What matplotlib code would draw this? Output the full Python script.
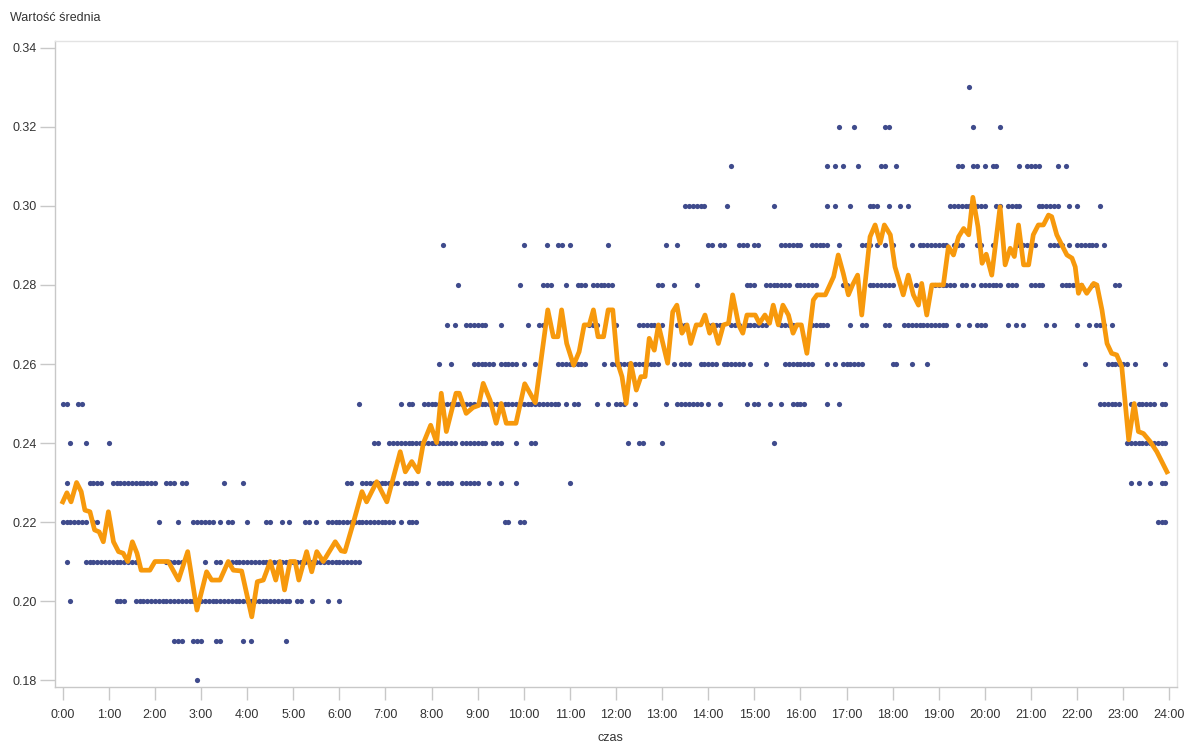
import numpy as np
import matplotlib
matplotlib.use("Agg")
import matplotlib.pyplot as plt

plt.rcParams['font.family'] = ['Liberation Sans', 'DejaVu Sans']

# scatter: for each level, the 5-minute slots (0 = 0:00, 287 = 23:55) holding a dot
# tuples are inclusive runs of slots
levels = {
    0.18: [35],
    0.19: [29, 30, 31, 34, 35, 36, 40, 41, 47, 49, 58],
    0.20: [2, (14, 16), (19, 59), 61, 62, 65, 69, 72],
    0.21: [1, (6, 19), (27, 31), 37, 40, 41, (44, 77)],
    0.22: [(0, 6), 8, 9, 25, 30, (34, 39), 41, 43, 44, 48, 53, 54, 57, 59, 63, 64, 66,
           (69, 86), 88, (90, 92), 115, 116, 119, 120, (285, 287)],
    0.23: [1, (7, 10), (13, 24), (27, 29), 31, 32, 42, 47, 74, 75, (78, 87), (89, 92), 95,
           (98, 101), (104, 108), 111, 114, 118, 132, 278, 280, 283, 286, 287],
    0.24: [2, 6, 12, 81, 82, (85, 102), (104, 110), (112, 114), 118, 122, 123, 147, 150, 151,
           156, 185, (277, 287)],
    0.25: [0, 1, 4, 5, 77, 88, 90, 91, (94, 129), 131, 133, 134, 139, 142, (144, 146), 149,
           157, (160, 166), 168, 171, 178, 180, 181, 184, 187, (190, 193), 199, 202,
           (270, 275), 278, (280, 284), 286, 287],
    0.26: [98, 101, (107, 112), (114, 118), 120, 123, (129, 136), 141, (143, 155), 159,
           (161, 163), (166, 170), (172, 177), 179, 183, (188, 195), 199, 201, (203, 208),
           216, 217, 221, 225, 266, (272, 277), 279, 287],
    0.27: [100, 102, (105, 110), 114, 121, 124, 125, (137, 139), 144, (150, 154), 156,
           (160, 162), (168, 171), (174, 176), (178, 183), (187, 190), (195, 199), 205, 208,
           209, 214, 215, (219, 230), 233, 236, (238, 240), 246, 248, 250, 256, 258, 264, 267,
           (269, 271), 273],
    0.28: [103, 119, (125, 127), 131, (134, 136), (138, 143), 155, 156, 159, 165, (178, 180),
           (183, 189), (191, 196), 203, 204, (210, 216), 222, (227, 232), 234, 235, 237,
           (239, 244), (246, 248), (252, 255), (260, 265), 268, 269, 274, 275],
    0.29: [99, 120, 126, 129, 130, 132, 142, 157, 160, 168, 169, 171, 172, (176, 178), 180,
           181, (187, 192), (195, 199), 202, (208, 210), 212, 214, 216, 221, (223, 230),
           (232, 234), 238, 239, 242, (248, 253), (257, 260), 262, (264, 269), 271],
    0.30: [(162, 167), 173, 185, 199, 201, 205, (210, 212), 215, 218, 220, (231, 240), 243,
           244, (246, 249), (254, 259), 262, 264, 270],
    0.31: [174, 199, 201, 203, 207, 213, 214, 217, 233, 234, 237, 238, 240, 242, 243, 249,
           (251, 254), 259, 261],
    0.32: [202, 206, 214, 215, 237, 244],
    0.33: [236],
}

# moving average line: (hour, value) vertices
line_t = [0.00, 0.09, 0.18, 0.30, 0.40, 0.48, 0.59, 0.69, 0.79, 0.88, 0.99, 1.10, 1.21,
          1.31, 1.41, 1.51, 1.61, 1.70, 1.89, 2.00, 2.29, 2.51, 2.71, 2.91, 3.12, 3.23,
          3.41, 3.59, 3.70, 3.88, 4.10, 4.22, 4.35, 4.50, 4.62, 4.71, 4.81, 4.93, 5.04,
          5.12, 5.29, 5.40, 5.51, 5.65, 5.91, 6.04, 6.12, 6.30, 6.49, 6.59, 6.81, 7.03,
          7.32, 7.43, 7.57, 7.71, 7.82, 7.98, 8.11, 8.21, 8.32, 8.53, 8.60, 8.75, 8.90,
          9.02, 9.12, 9.27, 9.40, 9.51, 9.62, 9.83, 10.02, 10.25, 10.52, 10.64, 10.74,
          10.82, 10.93, 11.08, 11.20, 11.31, 11.42, 11.51, 11.61, 11.73, 11.83, 11.93,
          12.03, 12.13, 12.22, 12.32, 12.44, 12.54, 12.63, 12.72, 12.83, 12.92, 13.12,
          13.23, 13.32, 13.43, 13.54, 13.62, 13.74, 13.84, 13.93, 14.03, 14.11, 14.22,
          14.33, 14.44, 14.53, 14.66, 14.75, 14.84, 15.02, 15.11, 15.23, 15.33, 15.41,
          15.52, 15.62, 15.74, 15.84, 15.92, 16.02, 16.14, 16.28, 16.36, 16.54, 16.72,
          16.82, 16.93, 17.04, 17.13, 17.24, 17.33, 17.51, 17.62, 17.73, 17.82, 17.95,
          18.05, 18.23, 18.34, 18.45, 18.56, 18.63, 18.74, 18.85, 19.10, 19.21, 19.32,
          19.43, 19.54, 19.65, 19.74, 19.85, 19.94, 20.03, 20.15, 20.33, 20.44, 20.55,
          20.64, 20.73, 20.84, 20.95, 21.05, 21.16, 21.27, 21.38, 21.45, 21.56, 21.67,
          21.78, 21.89, 21.96, 22.03, 22.10, 22.21, 22.36, 22.43, 22.54, 22.65, 22.75,
          22.86, 22.97, 23.12, 23.24, 23.33, 23.44, 23.59, 23.73, 23.95]
line_v = [0.2251, 0.2274, 0.2251, 0.2300, 0.2277, 0.2230, 0.2226, 0.2180, 0.2175, 0.2150,
          0.2226, 0.2150, 0.2125, 0.2121, 0.2100, 0.2150, 0.2121, 0.2078, 0.2078, 0.2100,
          0.2100, 0.2053, 0.2125, 0.1977, 0.2074, 0.2053, 0.2053, 0.2100, 0.2078, 0.2076,
          0.1960, 0.2049, 0.2053, 0.2100, 0.2053, 0.2100, 0.2028, 0.2100, 0.2100, 0.2053,
          0.2125, 0.2074, 0.2125, 0.2100, 0.2150, 0.2127, 0.2125, 0.2197, 0.2277, 0.2251,
          0.2302, 0.2251, 0.2378, 0.2327, 0.2353, 0.2327, 0.2399, 0.2445, 0.2401, 0.2526,
          0.2429, 0.2526, 0.2526, 0.2475, 0.2490, 0.2495, 0.2551, 0.2508, 0.2450, 0.2500,
          0.2450, 0.2450, 0.2550, 0.2502, 0.2737, 0.2669, 0.2669, 0.2737, 0.2652, 0.2597,
          0.2631, 0.2699, 0.2699, 0.2737, 0.2669, 0.2669, 0.2737, 0.2737, 0.2605, 0.2568,
          0.2500, 0.2602, 0.2534, 0.2568, 0.2568, 0.2665, 0.2635, 0.2699, 0.2602, 0.2732,
          0.2749, 0.2678, 0.2699, 0.2652, 0.2699, 0.2699, 0.2724, 0.2678, 0.2699, 0.2652,
          0.2699, 0.2703, 0.2775, 0.2699, 0.2678, 0.2724, 0.2724, 0.2703, 0.2724, 0.2703,
          0.2749, 0.2699, 0.2749, 0.2724, 0.2678, 0.2699, 0.2699, 0.2627, 0.2762, 0.2775,
          0.2775, 0.2821, 0.2876, 0.2829, 0.2775, 0.2800, 0.2825, 0.2724, 0.2922, 0.2952,
          0.2906, 0.2952, 0.2927, 0.2846, 0.2775, 0.2825, 0.2775, 0.2749, 0.2804, 0.2724,
          0.2800, 0.2800, 0.2897, 0.2876, 0.2922, 0.2943, 0.2927, 0.3022, 0.2948, 0.2855,
          0.2878, 0.2825, 0.2998, 0.2851, 0.2893, 0.2872, 0.2952, 0.2851, 0.2851, 0.2927,
          0.2952, 0.2952, 0.2977, 0.2973, 0.2927, 0.2901, 0.2876, 0.2868, 0.2846, 0.2779,
          0.2800, 0.2779, 0.2804, 0.2800, 0.2737, 0.2652, 0.2627, 0.2623, 0.2593, 0.2408,
          0.2500, 0.2429, 0.2424, 0.2403, 0.2378, 0.2327]

hour_labels = ["%d:00" % h for h in range(25)]
y_ticks = [0.18, 0.20, 0.22, 0.24, 0.26, 0.28, 0.30, 0.32, 0.34]


def expand(runs):
    out = []
    for r in runs:
        if isinstance(r, tuple):
            out.extend(range(r[0], r[1] + 1))
        else:
            out.append(r)
    return out


pts_x, pts_y = [], []
for lvl, runs in levels.items():
    slots = expand(runs)
    pts_x.extend(np.array(slots) / 12.0)
    pts_y.extend([lvl] * len(slots))

fig = plt.figure(figsize=(11.89, 7.44), dpi=100)
ax = fig.add_axes([0.0463, 0.0766, 0.9437, 0.8683])

ax.scatter(pts_x, pts_y, s=14, color='#3f4b8c', linewidths=0, zorder=2)
ax.plot(line_t, line_v, color='#f7990c', lw=3.4, solid_joinstyle='round', zorder=3)

ax.set_xlim(-0.167, 24.17)
ax.set_ylim(0.17823, 0.34177)
ax.set_xticks(range(25))
ax.set_xticklabels(hour_labels)
ax.set_yticks(y_ticks)
ax.set_yticklabels(["%.2f" % v for v in y_ticks])

for side in ['top', 'right']:
    ax.spines[side].set_color('#e3e3e3')
    ax.spines[side].set_linewidth(1.0)
for side in ['left', 'bottom']:
    ax.spines[side].set_color('#c8c8c8')
    ax.spines[side].set_linewidth(1.0)

ax.tick_params(axis='x', length=9, width=1, color='#c8c8c8', pad=7, labelsize=9, labelcolor='#333333')
ax.tick_params(axis='y', length=11, width=1, color='#c8c8c8', pad=2, labelsize=9, labelcolor='#333333')

fig.text(10 / 1189, 1 - 18 / 744, "Wartość średnia", fontsize=9, color='#333333', va='center', ha='left')
fig.text(610 / 1189, 1 - 738 / 744, "czas", fontsize=9, color='#333333', va='center', ha='center')

fig.savefig("out.png", dpi=100)
